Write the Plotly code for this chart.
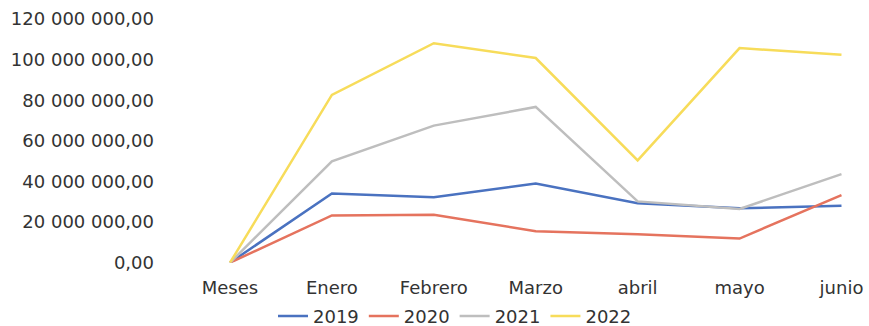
import plotly.graph_objects as go

# Monthly totals per year (first point "Meses" is the zero baseline)
meses = ["Meses", "Enero", "Febrero", "Marzo", "abril", "mayo", "junio"]
v2019 = [0, 34.1e6, 32.2e6, 39.0e6, 29.3e6, 26.8e6, 28.1e6]
v2020 = [0, 23.3e6, 23.6e6, 15.5e6, 14.0e6, 11.9e6, 33.3e6]
v2021 = [0, 49.9e6, 67.5e6, 76.7e6, 30.2e6, 26.5e6, 43.6e6]
v2022 = [0, 82.6e6, 108.1e6, 100.8e6, 50.4e6, 105.7e6, 102.4e6]

series = [
    ("2019", v2019, "#4A72C0"),
    ("2020", v2020, "#E5735E"),
    ("2021", v2021, "#BEBEBE"),
    ("2022", v2022, "#F7DC5A"),
]

fig = go.Figure()
for name, vals, color in series:
    fig.add_trace(go.Scatter(
        x=meses, y=vals, name=name, mode="lines",
        line=dict(color=color, width=2.5),
        cliponaxis=False,
    ))

font_family = "DejaVu Sans, Arial, sans-serif"
fig.update_layout(
    width=869, height=326,
    margin=dict(l=179, r=0, t=19, b=61),
    paper_bgcolor="white", plot_bgcolor="white",
    separators=", ",
    font=dict(family=font_family, size=18, color="#333333"),
    showlegend=True,
    legend=dict(
        orientation="h",
        xref="paper", x=0.40, xanchor="center",
        yref="container", y=0.03, yanchor="middle",
        font=dict(size=18, color="#333333"),
        itemwidth=30, tracegroupgap=0,
        bgcolor="rgba(0,0,0,0)",
    ),
    xaxis=dict(
        type="category", range=[-0.5, 6.27],
        showgrid=False, zeroline=False, showline=False,
        ticks="", ticklabelstandoff=12,
        tickfont=dict(size=18),
    ),
    yaxis=dict(
        range=[0, 120e6], dtick=20e6, tick0=0,
        tickformat=",.2f",
        showgrid=False, zeroline=False, showline=False,
        ticks="", ticklabelstandoff=24,
        tickfont=dict(size=18),
    ),
)

fig.write_html("out.html")
